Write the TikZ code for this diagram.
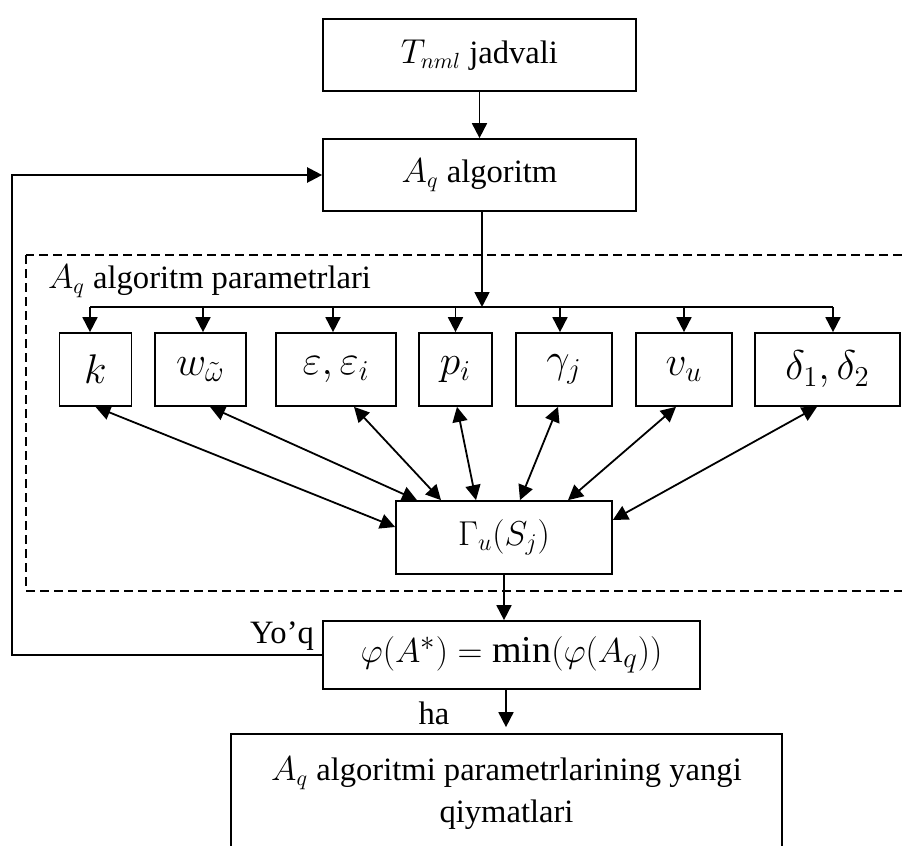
\documentclass[tikz,border=0pt]{standalone}
\usepackage{fontspec}
\setmainfont{Liberation Serif}
\usetikzlibrary{arrows.meta}
\begin{document}
\begin{tikzpicture}[x=0.5pt,y=-0.5pt,
  box/.style={draw, line width=0.85pt, inner sep=0pt, align=center},
  txt/.style={font=\fontsize{16.3}{20}\selectfont},
  parbox/.style={box, minimum height=36.5pt, font=\fontsize{20}{24}\selectfont},
  arr/.style={line width=0.9pt, -{Triangle[length=7.5pt,width=7.5pt]}},
  darr/.style={line width=0.9pt, {Triangle[length=7.5pt,width=7.5pt]}-{Triangle[length=7.5pt,width=7.5pt]}},
]
\useasboundingbox (0,0) rectangle (902,846);
\clip (0,0) rectangle (902,846);

% main chain
\node[box, txt, minimum width=156.5pt, minimum height=36pt] (tab) at (479.5,55) {$T_{nml}$ jadvali};
\node[box, txt, minimum width=156.5pt, minimum height=36pt] (alg) at (479.5,175) {$A_q$ algoritm};

% parameter group
\draw[line width=0.75pt, dash pattern=on 4.5pt off 2.5pt] (26,255) rectangle (912,591);
\node[txt, anchor=west] (grp) at (41,281) {$A_q$ algoritm parametrlari};

\node[parbox, minimum width=36pt] (k) at (95.5,369.5) {$k$};
\node[parbox, minimum width=45.5pt] (w) at (200.5,369.5) {$w_{\tilde\omega}$};
\node[parbox, minimum width=60pt] (eps) at (336,369.5) {$\varepsilon,\varepsilon_i$};
\node[parbox, minimum width=36.5pt] (p) at (455.5,369.5) {$p_i$};
\node[parbox, minimum width=48pt] (gam) at (564,369.5) {$\gamma_j$};
\node[parbox, minimum width=48pt] (v) at (684,369.5) {$v_u$};
\node[parbox, minimum width=72.5pt] (del) at (827.5,369.5) {$\delta_1,\delta_2$};

\node[box, minimum width=108pt, minimum height=36.5pt, font=\fontsize{18.5}{22}\selectfont] (G) at (504,537.5) {$\Gamma_u(S_j)$};

\node[box, minimum width=188.5pt, minimum height=34pt, font=\fontsize{19}{22}\selectfont] (phi) at (511.5,655) {$\varphi(A^*)=\min(\varphi(A_q))$};

\node[box, txt, minimum width=275.5pt, minimum height=59pt] (res) at (506.5,793)
  {$A_q$ algoritmi parametrlarining yangi\\[1pt] qiymatlari};

% connectors
\draw[arr] (tab.south) -- (alg.north);
\coordinate (bus) at (482,307);
\draw[arr] ([xshift=1.25pt]alg.south) -- (bus);
\draw[line width=0.9pt] ([xshift=-2.75pt]k.north |- bus) -- ([xshift=2.75pt]del.north |- bus);
\draw[arr] ([xshift=-2.75pt]k.north |- bus) -- ([xshift=-2.75pt]k.north);
\draw[arr] ([xshift=1.25pt]w.north |- bus) -- ([xshift=1.25pt]w.north);
\draw[arr] ([xshift=-1.5pt]eps.north |- bus) -- ([xshift=-1.5pt]eps.north);
\draw[arr] (p.north |- bus) -- (p.north);
\draw[arr] ([xshift=-2pt]gam.north |- bus) -- ([xshift=-2pt]gam.north);
\draw[arr] (v.north |- bus) -- (v.north);
\draw[arr] ([xshift=2.75pt]del.north |- bus) -- ([xshift=2.75pt]del.north);

\draw[darr] (k.south) -- ([yshift=5.25pt]G.west);
\draw[darr] ([xshift=4.75pt]w.south) -- ([xshift=-43.5pt]G.north);
\draw[darr] ([xshift=9pt]eps.south) -- ([xshift=-31.5pt]G.north);
\draw[darr] ([xshift=0.75pt]p.south) -- ([xshift=-14pt]G.north);
\draw[darr] ([xshift=-3pt]gam.south) -- ([xshift=8pt]G.north);
\draw[darr] ([xshift=-4pt]v.south) -- ([xshift=32pt]G.north);
\draw[darr] ([xshift=-5.25pt]del.south) -- ([yshift=8.75pt]G.east);

\draw[arr] (G.south) -- (G.south |- phi.north);
\draw[arr, shorten >=3pt] ([xshift=-2.75pt]phi.south) -- ([xshift=-2.75pt]phi.south |- res.north);

% feedback loop
\coordinate (fb) at (12,175);
\draw[arr, line width=1.15pt] (phi.west) -| (fb) -- (alg.west);

\node[txt, anchor=east] (no) at (321,636) {Yo’q};
\node[txt] (yes) at (434,713) {ha};
\end{tikzpicture}
\end{document}
